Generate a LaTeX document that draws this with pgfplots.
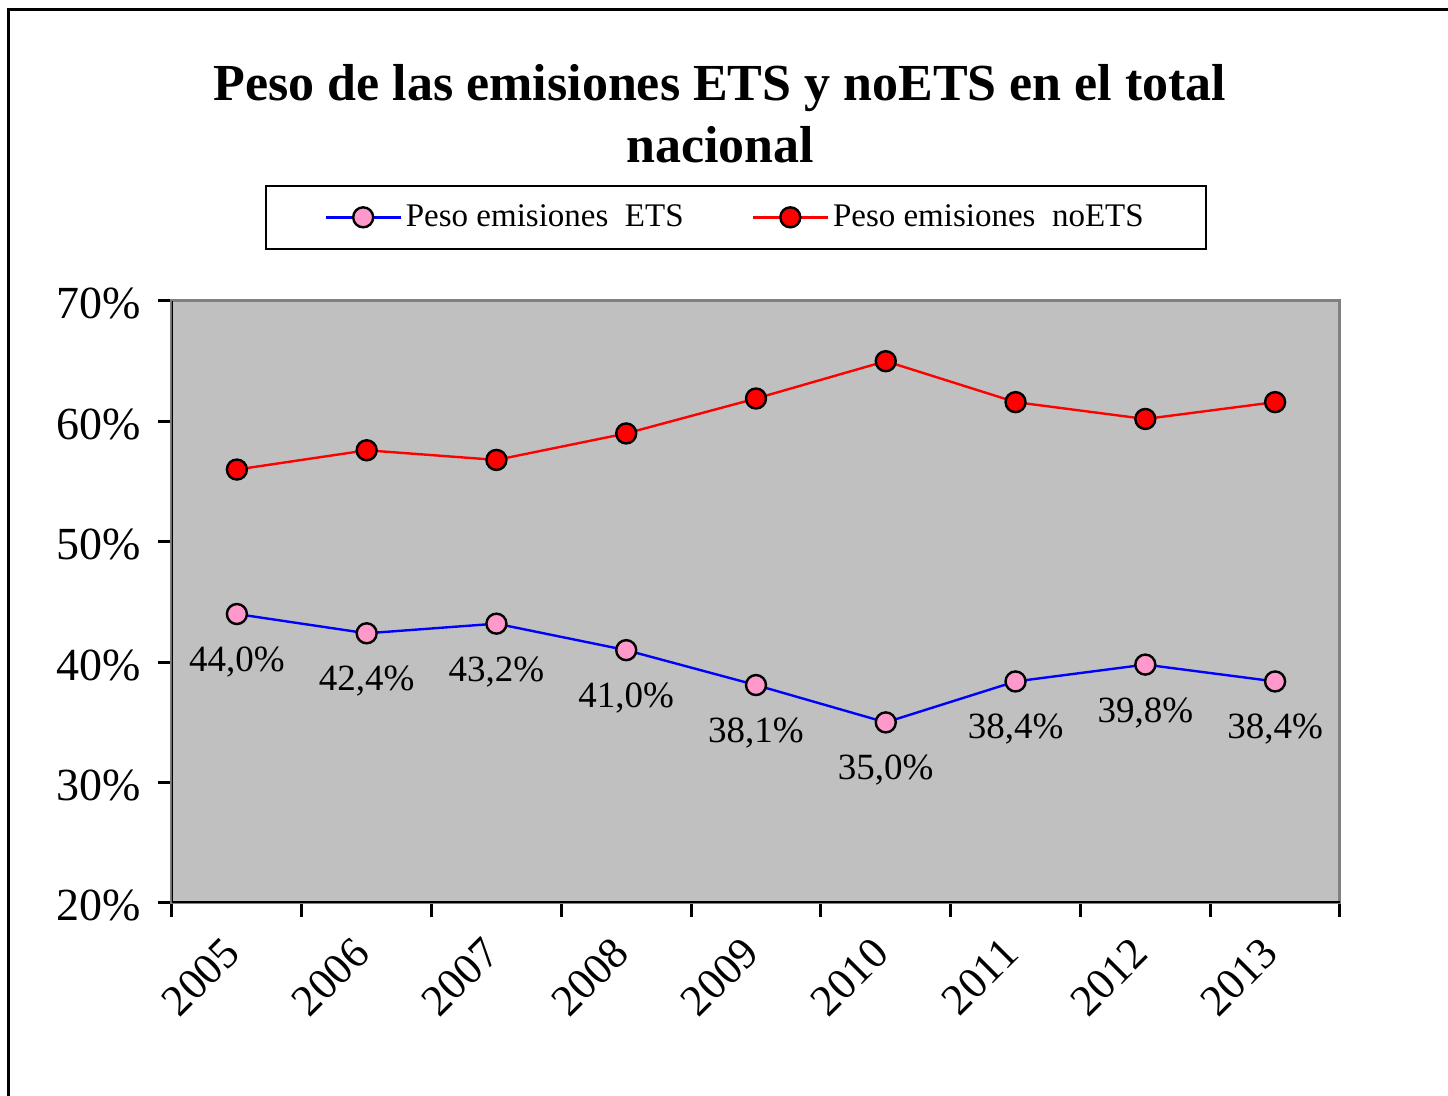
\documentclass[border=0pt]{standalone}
\usepackage{pgfplots}
\pgfplotsset{compat=1.18}
\usepackage{fontspec}
\setmainfont{Liberation Serif}
\definecolor{plotgray}{HTML}{C0C0C0}
\definecolor{edgegray}{HTML}{808080}
\definecolor{etspink}{HTML}{FF99CC}
\begin{document}
\begin{tikzpicture}[x=1pt,y=1pt]
\useasboundingbox (0,0) rectangle (724,548);
\draw[line width=1.5pt] (4,0) -- (4,543) -- (724,543);
\node[anchor=base, font=\fontsize{26}{30}\selectfont\bfseries, inner sep=0pt] at (360,497.5) {Peso de las emisiones ETS y noETS en el total};
\node[anchor=base, font=\fontsize{26}{30}\selectfont\bfseries, inner sep=0pt] at (360,466.5) {nacional};
\begin{axis}[
  at={(86pt,96.5pt)}, anchor=south west,
  scale only axis, width=584pt, height=301pt,
  xmin=-0.5, xmax=8.5, ymin=20, ymax=70,
  axis background/.style={fill=plotgray},
  axis line style={draw=edgegray, line width=1.5pt},
  xtick={-0.5,0.5,1.5,2.5,3.5,4.5,5.5,6.5,7.5,8.5},
  xticklabels={2005,2006,2007,2008,2009,2010,2011,2012,2013},
  x tick label as interval,
  ytick={20,30,40,50,60,70},
  yticklabel={\pgfmathprintnumber{\tick}\%},
  tick align=outside, tick pos=left,
  major tick length=7pt,
  tick style={black, line width=1.5pt},
  xticklabel style={rotate=45, anchor=east, font=\fontsize{22}{26}\selectfont},
  xticklabel shift=12pt,
  yticklabel style={font=\fontsize{23}{27}\selectfont, yshift=-1.5pt},
  yticklabel shift=5pt,
  /pgf/number format/assume math mode=true,
  legend columns=2,
  legend style={at={(0.483,1.139)}, anchor=center, draw=black, line width=1pt, fill=white,
    font=\fontsize{16.5}{20}\selectfont, inner xsep=29pt, inner ysep=7.5pt,
    /tikz/every even column/.append style={column sep=32pt}},
  legend image code/.code={\draw[mark repeat=2,mark phase=2,#1] plot coordinates {(0pt,0pt) (18.75pt,0pt) (37.5pt,0pt)};},
]
\addplot[blue, line width=1.2pt, mark=*, mark size=5pt,
  mark options={fill=etspink, draw=black, line width=1.2pt},
  nodes near coords={\pgfmathprintnumber[fixed,fixed zerofill,precision=1,use comma]{\pgfplotspointmeta}\%},
  every node near coord/.append style={anchor=center, yshift=-24pt, text=black, font=\fontsize{18.5}{22}\selectfont}]
  coordinates {(0,44.0) (1,42.4) (2,43.2) (3,41.0) (4,38.1) (5,35.0) (6,38.4) (7,39.8) (8,38.4)};
\addlegendentry{Peso emisiones\ \ ETS}
\addplot[red, line width=1.2pt, mark=*, mark size=5pt,
  mark options={fill=red, draw=black, line width=1.2pt}]
  coordinates {(0,56.0) (1,57.6) (2,56.8) (3,59.0) (4,61.9) (5,65.0) (6,61.6) (7,60.2) (8,61.6)};
\addlegendentry{Peso emisiones\ \ noETS}
\draw[black, line width=1.5pt] (rel axis cs:0,1) -- (rel axis cs:0,0) -- (rel axis cs:1,0);
\end{axis}
\end{tikzpicture}
\end{document}
